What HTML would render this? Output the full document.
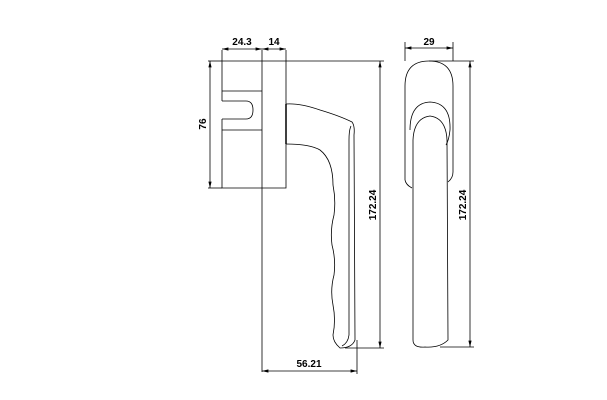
<!DOCTYPE html>
<html><head><style>html,body{margin:0;background:#fff}svg{display:block}</style></head><body>
<svg width="607" height="400" viewBox="0 0 607 400" xmlns="http://www.w3.org/2000/svg" font-family="Liberation Sans, sans-serif" font-weight="bold" font-size="10">
<defs><marker id="a" markerWidth="8" markerHeight="6" refX="8" refY="3" orient="auto-start-reverse"><path d="M0,1 L8,3 L0,5z" fill="#000"/></marker></defs>
<g fill="none" stroke="#000" stroke-width="0.8">
<!-- left view rosette -->
<path d="M222,101 V61 H286 V188 H222 V119"/>
<line x1="262" y1="50" x2="262" y2="372"/>
<path d="M222,91 H262 M222,130 H262"/>
<path d="M222,101 H246 Q253,101 253,110 Q253,119 246,119 H222"/>
<line x1="286" y1="104" x2="286" y2="144" stroke-width="1.5"/>
<!-- handle -->
<path d="M286,104 Q300,103 320,110 Q340,116 352,122 Q355,126 354,135 L355,340 Q352,348 340,348 Q333,342 333,335 Q336,320 333,305 Q330,290 334,275 Q336,260 332,245 Q330,230 334,215 Q336,200 333,185 Q333,160 320,150 Q310,144 286,144"/>
<path d="M351,126 Q349,130 349,140 L349,335 Q348,343 342,346"/>
<!-- dims left -->
<line x1="222" y1="50" x2="222" y2="61"/><line x1="286" y1="50" x2="286" y2="61"/>
<line x1="222" y1="49" x2="262" y2="49" marker-start="url(#a)" marker-end="url(#a)"/>
<line x1="262" y1="49" x2="286" y2="49" marker-start="url(#a)" marker-end="url(#a)"/>
<line x1="208" y1="61" x2="222" y2="61"/><line x1="208" y1="188" x2="222" y2="188"/>
<line x1="210" y1="61" x2="210" y2="188" marker-start="url(#a)" marker-end="url(#a)"/>
<line x1="286" y1="61" x2="384" y2="61"/>
<line x1="345" y1="348" x2="384" y2="348"/>
<line x1="380" y1="61" x2="380" y2="348" marker-start="url(#a)" marker-end="url(#a)"/>
<line x1="357" y1="340" x2="357" y2="374"/>
<line x1="262" y1="371" x2="357" y2="371" marker-start="url(#a)" marker-end="url(#a)"/>
<!-- right view -->
<path d="M405,180 V86 Q405,61 429,61 Q453,61 453,86 V172 Q453,178 448,182"/>
<path d="M405,180 Q406,185 412,188"/>
<path d="M410,130 Q410,103 430,102 Q451,103 450,130 Q449,140 446,145"/>
<path d="M413,140 Q414,118 430,116 Q446,118 447,140 L448,340 Q440,348 425,347 Q413,348 413,340 Z"/>
<line x1="405" y1="42" x2="405" y2="61"/><line x1="453" y1="42" x2="453" y2="61"/>
<line x1="405" y1="48" x2="453" y2="48" marker-start="url(#a)" marker-end="url(#a)"/>
<line x1="429" y1="61" x2="474" y2="61"/><line x1="440" y1="347" x2="474" y2="347"/>
<line x1="470" y1="61" x2="470" y2="347" marker-start="url(#a)" marker-end="url(#a)"/>
</g>
<text x="242" y="45" text-anchor="middle">24.3</text>
<text x="274" y="45" text-anchor="middle">14</text>
<text x="429" y="45" text-anchor="middle">29</text>
<text x="309" y="367" text-anchor="middle">56.21</text>
<text transform="translate(206,124) rotate(-90)" text-anchor="middle">76</text>
<text transform="translate(376,205) rotate(-90)" text-anchor="middle">172.24</text>
<text transform="translate(466,205) rotate(-90)" text-anchor="middle">172.24</text>
</svg>
</body></html>
